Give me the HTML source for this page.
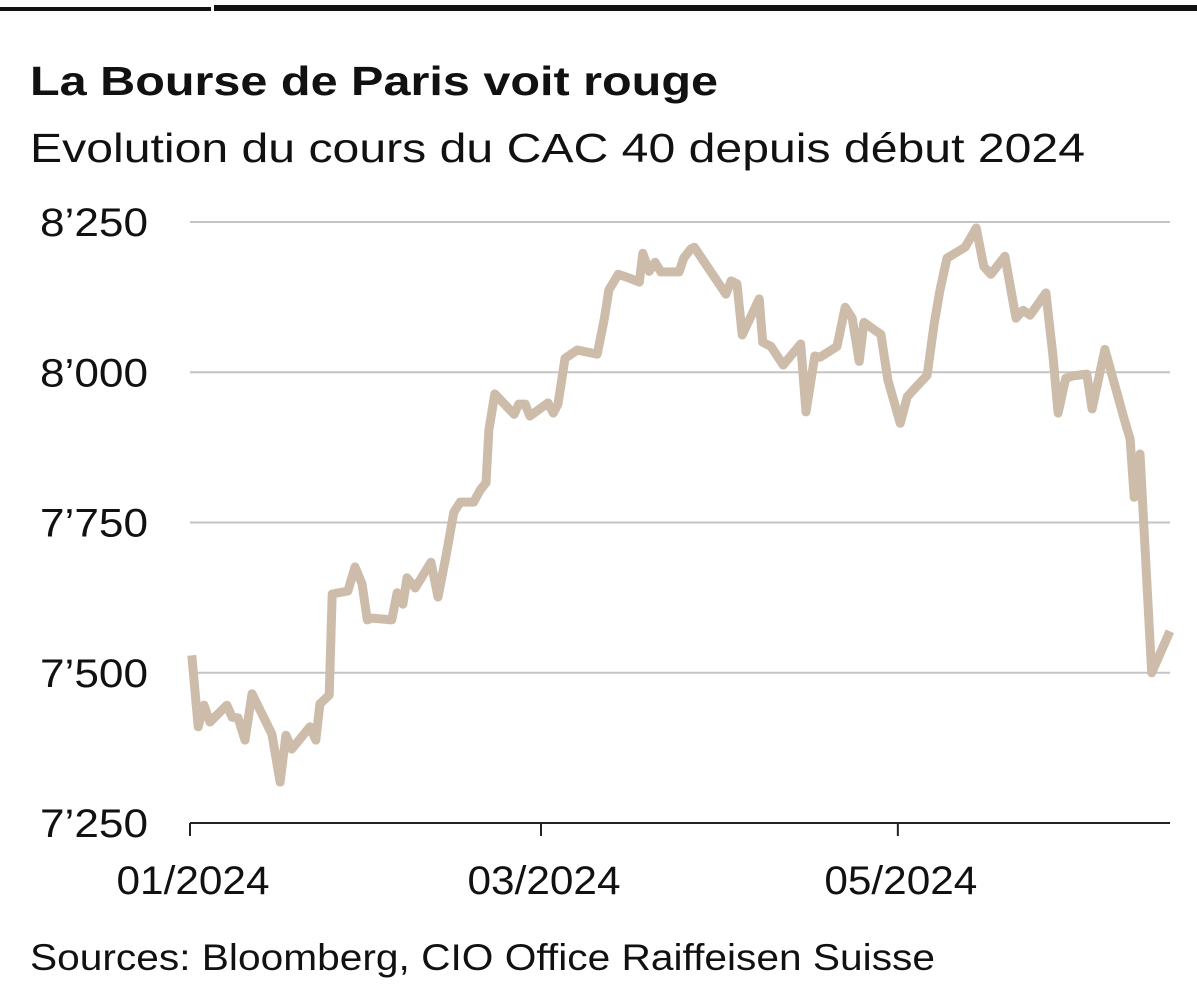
<!DOCTYPE html>
<html><head><meta charset="utf-8"><style>
html,body{margin:0;padding:0;background:#fff;}
svg{display:block;font-family:"Liberation Sans",sans-serif;}
</style></head><body>
<svg id="chart" width="1197" height="985" viewBox="0 0 1197 985" xmlns="http://www.w3.org/2000/svg">
<rect x="0" y="0" width="1197" height="985" fill="#fff"/>
<rect x="0" y="7" width="211" height="4" fill="#111"/>
<rect x="214" y="5" width="983" height="6" fill="#111"/>
<text x="30" y="95" font-size="41" font-weight="bold" fill="#111" textLength="688" lengthAdjust="spacingAndGlyphs">La Bourse de Paris voit rouge</text>
<text x="30" y="162" font-size="41" fill="#111" textLength="1055" lengthAdjust="spacingAndGlyphs">Evolution du cours du CAC 40 depuis début 2024</text>
<g id="grid"></g>
<g id="axes"></g>
<g id="series"></g>
<text x="30" y="970" font-size="37" fill="#111" textLength="905" lengthAdjust="spacingAndGlyphs">Sources: Bloomberg, CIO Office Raiffeisen Suisse</text>
</svg>
<script>
const days = [0.3,1.4,2.4,3.4,6.3,7.2,8.2,9.4,10.6,14.0,15.4,16.4,17.4,20.5,21.5,22.2,23.8,24.3,27.0,28.2,29.4,30.3,31.1,34.5,35.4,36.4,37.1,38.5,41.2,42.4,43.8,45.1,46.2,48.5,49.6,50.6,51.1,52.1,55.4,56.2,57.3,58.1,61.2,62.1,62.9,64.1,66.2,69.6,70.8,71.6,73.2,75.0,76.8,77.4,78.5,79.5,80.5,83.6,84.4,85.6,86.2,91.6,92.5,93.5,94.4,97.3,97.9,99.3,101.4,104.4,105.3,106.8,107.7,110.6,112.0,113.2,114.4,115.2,118.1,119.3,121.4,122.6,123.6,126.0,127.2,128.2,129.4,132.5,134.4,135.7,136.9,139.3,141.2,142.4,143.6,146.3,147.5,148.4,149.7,150.9,153.3,154.2,156.4,159.7,160.7,161.4,162.4,164.4,167.5];
const values = [7529,7410,7446,7418,7446,7426,7425,7388,7465,7398,7318,7396,7373,7410,7388,7448,7463,7631,7636,7676,7648,7588,7591,7588,7633,7614,7658,7641,7684,7626,7696,7767,7784,7784,7804,7816,7904,7964,7930,7947,7947,7927,7949,7932,7947,8023,8037,8030,8088,8137,8163,8157,8150,8198,8168,8183,8167,8167,8190,8205,8208,8130,8152,8147,8062,8122,8050,8043,8012,8047,7934,8027,8025,8043,8108,8090,8018,8083,8063,7987,7915,7959,7970,7995,8080,8137,8190,8208,8240,8176,8163,8193,8090,8103,8095,8132,8028,7932,7990,7994,7997,7939,8038,7922,7889,7792,7864,7500,7569];
const yTicks = [7250,7500,7750,8000,8250];
const yTickLabels = ["7’250","7’500","7’750","8’000","8’250"];
const xTickDays = [0,60,121];
const xTickLabels = ["01/2024","03/2024","05/2024"];

const NS="http://www.w3.org/2000/svg";
const X0=190,X1=1170,Y0=823,Y1=222;
const x = d => X0 + d*5.85;
const y = v => Y0 - (v-7250)*(Y0-Y1)/1000;
function mk(tag, attrs, parent){const e=document.createElementNS(NS,tag);for(const k in attrs)e.setAttribute(k,attrs[k]);parent.appendChild(e);return e;}
const grid=document.getElementById('grid'),axes=document.getElementById('axes'),series=document.getElementById('series');
yTicks.forEach((t,i)=>{
  if(i>0){const l=mk('line',{x1:X0,x2:X1,y1:y(t),y2:y(t),stroke:'#c4c4c4','stroke-width':2},grid);
  
  }
  const tx=mk('text',{x:148,y:y(t)+14,'text-anchor':'end','font-size':40,fill:'#111',textLength:108,lengthAdjust:'spacingAndGlyphs'},axes);
  tx.textContent=yTickLabels[i];
  
  
});
const ax=mk('line',{x1:X0,x2:X1,y1:Y0,y2:Y0,stroke:'#222','stroke-width':2},axes);


xTickDays.forEach((d,i)=>{
  const tk=mk('line',{x1:x(d),x2:x(d),y1:Y0,y2:Y0+13,stroke:'#222','stroke-width':2},axes);
  
  
  const tx=mk('text',{x:x(d)+3,y:894,'text-anchor':'middle','font-size':40,fill:'#111',textLength:153,lengthAdjust:'spacingAndGlyphs'},axes);
  tx.textContent=xTickLabels[i];
  
  
});
const pts=days.map((d,i)=>x(d).toFixed(1)+','+y(values[i]).toFixed(1)).join(' ');
const pl=mk('polyline',{points:pts,fill:'none',stroke:'#cdbcaa','stroke-width':9,'stroke-linejoin':'round','stroke-linecap':'butt'},series);


</script>
</body></html>
